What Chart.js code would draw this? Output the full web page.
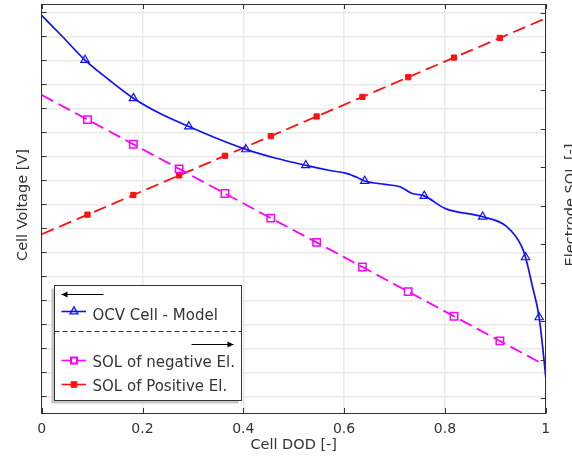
<!DOCTYPE html>
<html><head><meta charset="utf-8">
<script src="https://cdn.jsdelivr.net/npm/chart.js@4.4.1/dist/chart.umd.min.js"></script>
<style>html,body{margin:0;padding:0;background:#fff;}#wrap{position:relative;width:572px;height:457px;overflow:hidden;}</style>
</head><body><div id="wrap"><canvas id="c" width="572" height="457"></canvas></div>
<script>
// ---- data ----
const ocvDod = [0, 0.042, 0.086, 0.134, 0.182, 0.235, 0.292, 0.348, 0.405, 0.463, 0.524, 0.572, 0.606, 0.626, 0.641, 0.681, 0.711, 0.734, 0.759, 0.800, 0.875, 0.921, 0.952, 0.960, 0.973, 0.987, 0.996, 1.0];
const ocvVoltage = [4.187, 4.097, 4.001, 3.918, 3.842, 3.778, 3.724, 3.674, 3.629, 3.593, 3.5625, 3.541, 3.528, 3.512, 3.497, 3.483, 3.473, 3.446, 3.435, 3.383, 3.348, 3.310, 3.226, 3.179, 3.064, 2.929, 2.765, 2.682];
const ocvMarkerIdx = [2, 4, 6, 8, 10, 14, 18, 20, 23, 25];
const solDod = [0, 0.0909, 0.1818, 0.2727, 0.3636, 0.4545, 0.5455, 0.6364, 0.7273, 0.8182, 0.9091, 1.0];
const solNegative = [0.788, 0.724, 0.660, 0.596, 0.532, 0.468, 0.405, 0.341, 0.277, 0.213, 0.149, 0.085];
const solPositive = [0.426, 0.477, 0.528, 0.579, 0.630, 0.681, 0.732, 0.783, 0.834, 0.885, 0.936, 0.987];
const xTickValues = [0, 0.2, 0.4, 0.6, 0.8, 1];
const voltageTickValues = [2.6, 2.7, 2.8, 2.9, 3.0, 3.1, 3.2, 3.3, 3.4, 3.5, 3.6, 3.7, 3.8, 3.9, 4.0, 4.1, 4.2];
const solTickValues = [0, 0.1, 0.2, 0.3, 0.4, 0.5, 0.6, 0.7, 0.8, 0.9, 1.0];
const seriesNames = ['OCV Cell - Model', 'SOL of negative El.', 'SOL of Positive El.'];
const axisTitles = { x: 'Cell DOD [-]', left: 'Cell Voltage [V]', right: 'Electrode SOL [-]' };

// ---- styles ----
const BLUE = '#1010ff', MAG = '#ff00ff', RED = '#ff1010', TXT = '#333333', AX = '#333333', GRID = '#e9e9e9';
const FONT = '"DejaVu Sans", sans-serif';

const pts = (xs, ys) => xs.map((x, i) => ({ x: x, y: ys[i] }));
const solMarker = (r) => (ctx) => (ctx.dataIndex === 0 || ctx.dataIndex === solDod.length - 1) ? 0 : r;

const extras = {
  id: 'extras',
  afterDraw(chart) {
    const { ctx, chartArea: a, scales } = chart;
    ctx.save();
    // inward ticks
    ctx.strokeStyle = AX; ctx.lineWidth = 1; ctx.beginPath();
    voltageTickValues.forEach(v => { const p = Math.round(scales.y.getPixelForValue(v)) + 0.5; ctx.moveTo(a.left, p); ctx.lineTo(a.left + 5, p); });
    solTickValues.forEach(v => { const p = Math.round(scales.y2.getPixelForValue(v)) + 0.5; ctx.moveTo(a.right, p); ctx.lineTo(a.right - 5, p); });
    xTickValues.forEach(v => { const p = Math.round(scales.x.getPixelForValue(v)) + 0.5; ctx.moveTo(p, a.bottom); ctx.lineTo(p, a.bottom - 5); ctx.moveTo(p, a.top); ctx.lineTo(p, a.top + 5); });
    ctx.stroke();

    // axis titles (vertical)
    ctx.fillStyle = TXT; ctx.font = '14.5px ' + FONT; ctx.textAlign = 'center'; ctx.textBaseline = 'alphabetic';
    ctx.save(); ctx.translate(26.5, 205); ctx.rotate(-Math.PI / 2); ctx.fillText(axisTitles.left, 0, 0); ctx.restore();
    ctx.save(); ctx.translate(575, 205); ctx.rotate(-Math.PI / 2); ctx.fillText(axisTitles.right, 0, 0); ctx.restore();

    // legend box
    const bx = 54.5, by = 285.5, bw = 187, bh = 115;
    ctx.fillStyle = '#c6c6c6'; ctx.fillRect(bx - 3, by + 3, bw, bh);
    ctx.fillStyle = '#ffffff'; ctx.fillRect(bx, by, bw, bh);
    ctx.strokeStyle = AX; ctx.lineWidth = 1; ctx.strokeRect(bx, by, bw, bh);
    // separator
    ctx.setLineDash([5, 3]); ctx.beginPath(); ctx.moveTo(bx, 331.5); ctx.lineTo(bx + bw, 331.5); ctx.stroke(); ctx.setLineDash([]);
    // arrows
    const arrow = (x1, x2, y) => {
      ctx.strokeStyle = '#000'; ctx.fillStyle = '#000'; ctx.lineWidth = 1;
      ctx.beginPath(); ctx.moveTo(x1, y); ctx.lineTo(x2, y); ctx.stroke();
      const d = x2 > x1 ? 1 : -1;
      ctx.beginPath(); ctx.moveTo(x2, y); ctx.lineTo(x2 - d * 6, y - 3); ctx.lineTo(x2 - d * 6, y + 3); ctx.closePath(); ctx.fill();
    };
    arrow(103.5, 61.5, 294.5);
    arrow(191.5, 233.5, 344.5);
    // legend rows
    const rows = [
      { y: 311.5, color: BLUE, style: 'triangle', r: 4.6, fill: 'rgba(0,0,0,0)', bw: 1.3, base: 320 },
      { y: 360.5, color: MAG, style: 'rect', r: 4.2, fill: '#ffffff', bw: 2, base: 366.5 },
      { y: 384.5, color: RED, style: 'rect', r: 4, fill: RED, bw: 1, base: 391 }
    ];
    rows.forEach((r, i) => {
      ctx.strokeStyle = r.color; ctx.lineWidth = 1.6;
      ctx.beginPath(); ctx.moveTo(61.5, r.y); ctx.lineTo(86, r.y); ctx.stroke();
      ctx.fillStyle = r.fill; ctx.strokeStyle = r.color; ctx.lineWidth = r.bw;
      Chart.helpers.drawPoint(ctx, { pointStyle: r.style, radius: r.r, rotation: 0, borderWidth: r.bw }, 74, r.y);
      ctx.fillStyle = TXT; ctx.font = '15px ' + FONT; ctx.textAlign = 'left'; ctx.textBaseline = 'alphabetic';
      ctx.fillText(seriesNames[i], 92.5, r.base);
    });
    ctx.restore();
  }
};

new Chart(document.getElementById('c'), {
  type: 'line',
  data: {
    datasets: [
      { label: seriesNames[0], data: pts(ocvDod, ocvVoltage), yAxisID: 'y', borderColor: BLUE, borderWidth: 1.7,
        cubicInterpolationMode: 'monotone', pointStyle: 'triangle',
        pointRadius: (c) => ocvMarkerIdx.includes(c.dataIndex) ? 4.8 : 0,
        pointBorderColor: BLUE, pointBackgroundColor: 'rgba(0,0,0,0)', pointBorderWidth: 1.2 },
      { label: seriesNames[1], data: pts(solDod, solNegative), yAxisID: 'y2', borderColor: MAG, borderWidth: 1.8,
        borderDash: [13, 6], pointStyle: 'rect', pointRadius: solMarker(5.2),
        pointBorderColor: MAG, pointBackgroundColor: 'rgba(0,0,0,0)', pointBorderWidth: 1.5 },
      { label: seriesNames[2], data: pts(solDod, solPositive), yAxisID: 'y2', borderColor: RED, borderWidth: 1.8,
        borderDash: [13, 6], pointStyle: 'rect', pointRadius: solMarker(3.7),
        pointBorderColor: RED, pointBackgroundColor: RED, pointBorderWidth: 1 }
    ]
  },
  options: {
    responsive: false, animation: false, devicePixelRatio: 1,
    layout: { padding: 0 },
    plugins: { legend: { display: false }, tooltip: { enabled: false } },
    scales: {
      x: {
        type: 'linear', position: 'bottom', min: 0, max: 1,
        afterBuildTicks: (s) => { s.ticks = xTickValues.map(v => ({ value: v })); },
        afterFit: (s) => { s.height = 44; },
        ticks: { color: TXT, font: { family: FONT, size: 14 }, padding: 8, maxRotation: 0, autoSkip: false,
          callback: (v) => String(Math.round(v * 10) / 10) },
        grid: { color: GRID, lineWidth: 1.5, drawTicks: false },
        border: { display: true, color: AX, width: 1 },
        title: { display: true, text: axisTitles.x, color: TXT, font: { family: FONT, size: 14.5 }, padding: { top: 0, bottom: 3 } }
      },
      xTop: {
        type: 'linear', position: 'top', min: 0, max: 1,
        afterFit: (s) => { s.height = 4; },
        ticks: { display: false }, grid: { display: false, drawTicks: false },
        border: { display: true, color: AX, width: 1 }
      },
      y: {
        type: 'linear', position: 'left', min: 2.5304, max: 4.2346,
        afterBuildTicks: (s) => { s.ticks = voltageTickValues.map(v => ({ value: v })); },
        afterFit: (s) => { s.width = 41.7; },
        ticks: { display: false },
        grid: { color: GRID, lineWidth: 1.5, drawTicks: false },
        border: { display: true, color: AX, width: 1 }
      },
      y2: {
        type: 'linear', position: 'right', min: -0.0382, max: 1.0242,
        afterBuildTicks: (s) => { s.ticks = solTickValues.map(v => ({ value: v })); },
        afterFit: (s) => { s.width = 26.3; },
        ticks: { display: false },
        grid: { display: false, drawTicks: false },
        border: { display: true, color: AX, width: 1 }
      }
    }
  },
  plugins: [extras]
});
</script></body></html>
